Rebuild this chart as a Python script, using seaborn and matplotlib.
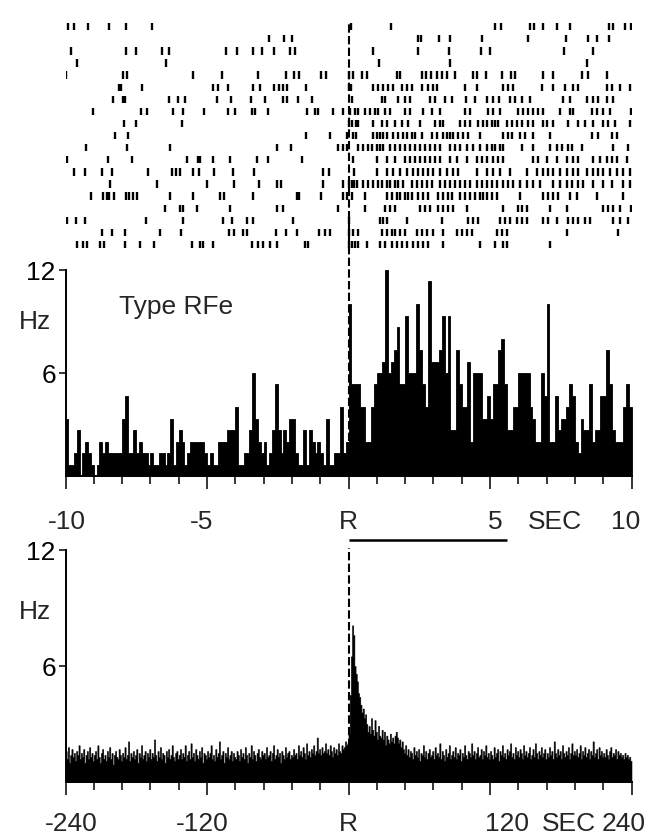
import numpy as np
import pandas as pd
import matplotlib
matplotlib.use("Agg")
import matplotlib.pyplot as plt
import seaborn as sns

# ---------------- data ----------------
raster_trials = [
    [-9.90, -9.70, -9.19, -8.45, -7.86, -6.93, 0.08, 1.49, 5.18, 5.39, 6.41, 6.57, 6.88, 7.36, 7.83, 9.22, 9.36, 9.77, 9.97],
    [-2.81, -2.27, -2.01, 2.47, 2.55, 3.20, 3.59, 4.71, 6.33, 7.69, 8.47, 8.77, 9.22],
    [-9.82, -7.86, -7.52, -6.58, -6.34, -4.34, -3.95, -3.36, -3.07, -2.63, -2.07, -1.89, 0.88, 2.44, 3.55, 4.67, 5.00, 7.62, 8.65],
    [-9.61, -6.46, 1.09, 3.59, 8.44],
    [-9.98, -7.98, -7.84, -5.48, -4.48, -3.19, -2.22, -1.91, -1.74, -0.98, -0.80, 0.02, 0.15, 0.47, 0.64, 1.70, 1.82, 2.59, 2.74, 2.90, 3.12, 3.29, 3.47, 3.76, 4.41, 4.53, 4.86, 5.41, 5.73, 5.88, 6.88, 7.24, 8.24, 8.47, 9.12],
    [-8.11, -8.03, -7.28, -4.78, -4.60, -4.25, -3.36, -3.13, -2.63, -2.45, -2.30, -2.16, -1.50, 0.02, 0.10, 0.88, 1.05, 1.23, 1.41, 1.58, 1.88, 2.06, 2.23, 2.59, 2.82, 3.00, 3.12, 4.12, 4.53, 5.47, 5.65, 5.83, 6.83, 7.24, 7.65, 7.95, 8.12, 9.12, 9.30, 9.60, 9.95],
    [-8.31, -7.98, -7.90, -6.34, -6.01, -5.78, -4.66, -4.15, -3.46, -2.95, -2.30, -2.16, -1.77, -1.30, 0.11, 1.17, 1.29, 1.76, 2.00, 2.17, 2.88, 3.06, 3.41, 3.65, 4.15, 4.47, 4.88, 5.12, 5.33, 5.71, 5.88, 6.12, 6.41, 7.59, 7.83, 8.42, 8.65, 8.83, 9.12, 9.36],
    [-9.04, -7.33, -7.13, -6.21, -5.84, -5.09, -4.25, -4.01, -3.42, -3.31, -2.83, -1.48, -1.19, -1.07, -0.54, -0.18, 0.05, 0.23, 0.35, 0.58, 0.76, 0.94, 1.05, 1.29, 1.47, 2.00, 2.17, 2.65, 2.94, 3.23, 4.12, 4.29, 4.94, 5.12, 5.35, 6.00, 6.18, 6.36, 6.53, 6.71, 6.89, 7.47, 7.83, 7.95, 8.59, 8.77, 9.01, 9.24, 9.97],
    [-7.93, -7.52, -5.87, 0.03, 0.12, 0.25, 0.35, 0.88, 1.17, 1.35, 1.64, 1.88, 2.11, 2.53, 3.06, 3.23, 3.35, 3.94, 4.12, 4.29, 4.59, 4.77, 4.88, 5.06, 5.18, 5.30, 5.59, 5.77, 5.94, 6.12, 6.36, 6.53, 6.89, 7.00, 7.24, 7.77, 8.12, 8.36, 8.65, 9.01, 9.18, 9.42, 9.95],
    [-8.25, -7.78, -1.50, -0.66, -0.04, 0.17, 0.27, 0.88, 1.00, 1.11, 1.23, 1.35, 1.58, 1.76, 1.94, 2.06, 2.23, 2.35, 2.59, 2.94, 3.12, 3.35, 3.47, 3.59, 3.71, 3.88, 4.06, 4.24, 4.65, 5.47, 5.65, 5.77, 6.06, 6.24, 6.53, 7.12, 8.59, 8.83, 9.30, 9.48],
    [-9.28, -7.84, -6.29, -2.51, -2.04, -0.36, -0.18, -0.04, 0.35, 0.52, 0.70, 0.82, 1.00, 1.11, 1.23, 1.47, 1.64, 1.82, 2.00, 2.17, 2.35, 2.53, 2.70, 2.88, 3.06, 3.23, 3.59, 3.76, 3.94, 4.18, 4.41, 4.65, 4.88, 5.06, 5.18, 5.35, 5.47, 6.12, 6.53, 7.12, 7.36, 7.53, 7.77, 7.89, 8.24, 9.36, 9.89],
    [-9.94, -8.49, -7.66, -5.70, -5.31, -5.25, -4.78, -4.19, -3.25, -2.83, -1.63, 0.17, 1.00, 1.35, 1.64, 2.00, 2.17, 2.35, 2.53, 2.70, 2.88, 3.06, 3.23, 3.59, 3.82, 4.18, 4.53, 4.71, 4.88, 5.12, 5.30, 5.47, 6.53, 6.71, 7.00, 7.36, 7.71, 7.95, 8.12, 8.65, 8.89, 9.12, 9.30, 9.48, 9.83],
    [-9.70, -9.31, -8.72, -8.37, -7.07, -6.25, -6.10, -5.96, -5.49, -5.27, -4.74, -4.07, -3.34, -0.89, -0.68, 0.20, 1.00, 1.35, 1.58, 1.82, 2.06, 2.29, 2.47, 2.65, 2.82, 3.00, 3.23, 3.47, 3.71, 3.88, 4.53, 4.88, 5.12, 5.35, 5.71, 6.30, 6.65, 6.89, 7.06, 7.24, 7.47, 7.71, 7.95, 8.12, 8.42, 8.65, 8.83, 9.01, 9.24, 9.48, 9.71, 9.95],
    [-8.43, -6.76, -4.99, -4.05, -3.15, -2.54, -2.40, -0.89, -0.18, 0.02, 0.11, 0.20, 0.29, 0.52, 0.70, 0.88, 1.05, 1.17, 1.35, 1.47, 1.64, 1.76, 1.94, 2.23, 2.41, 2.59, 2.76, 2.94, 3.23, 3.41, 3.59, 3.76, 3.94, 4.12, 4.29, 4.53, 4.71, 4.88, 5.06, 5.24, 5.47, 5.65, 5.83, 6.06, 6.30, 6.53, 6.77, 7.24, 7.47, 7.71, 7.89, 8.12, 8.30, 8.65, 9.01, 9.30, 9.71, 9.95],
    [-9.11, -8.66, -8.55, -8.45, -8.29, -7.86, -7.74, -7.63, -7.49, -6.31, -5.48, -4.54, -4.40, -3.36, -1.83, -1.74, -0.98, -0.18, -0.06, 0.11, 0.58, 1.35, 1.53, 1.70, 1.82, 2.00, 2.11, 2.23, 2.47, 2.65, 2.82, 3.18, 3.35, 3.53, 3.65, 3.94, 4.12, 4.29, 4.47, 4.65, 4.77, 4.88, 5.06, 5.24, 6.06, 6.89, 7.06, 7.24, 7.42, 7.83, 8.06, 8.77, 9.71],
    [-6.49, -5.96, -5.86, -5.37, -4.19, -2.54, -2.30, -0.36, 0.58, 1.29, 1.47, 1.64, 2.53, 2.70, 2.88, 3.18, 3.35, 3.53, 3.71, 4.18, 5.47, 6.00, 6.12, 6.30, 7.12, 7.71, 9.01, 9.18, 9.36, 9.60, 9.97],
    [-9.94, -9.63, -9.31, -7.17, -5.84, -4.42, -4.13, -3.57, -3.39, -1.97, 0.00, 1.11, 1.23, 1.35, 2.06, 3.29, 4.24, 4.41, 4.59, 5.35, 5.53, 5.71, 5.94, 6.12, 6.30, 6.89, 7.06, 7.36, 7.77, 7.95, 8.12, 8.36, 8.53, 9.36, 9.60, 9.89],
    [-8.72, -8.37, -7.90, -6.66, -5.93, -4.21, -4.05, -3.74, -3.57, -2.56, -2.21, -1.83, -1.03, -0.83, -0.66, 0.02, 0.17, 0.35, 1.17, 1.35, 1.53, 1.64, 1.82, 2.00, 2.41, 2.59, 2.76, 3.00, 3.35, 3.82, 4.00, 4.18, 4.35, 5.24, 5.41, 5.59, 7.71, 9.54],
    [-9.61, -9.37, -9.25, -8.78, -8.64, -7.90, -7.37, -6.87, -5.54, -5.25, -5.13, -4.78, -3.42, -3.19, -3.01, -2.77, -2.51, -1.54, -1.42, 0.02, 0.11, 0.23, 0.35, 0.64, 1.11, 1.29, 1.53, 1.70, 1.88, 2.06, 2.29, 2.47, 2.65, 2.82, 3.35, 4.65, 5.18, 5.47, 5.59, 7.12],
]

# spike counts per 0.1 s bin, -10 s .. +10 s (200 bins)
psth_counts = [
    5, 1, 1, 2, 4, 0, 2, 3, 2, 1,   0, 1, 3, 2, 3, 2, 2, 2, 2, 2,
    5, 7, 2, 2, 4, 2, 3, 2, 2, 1,   2, 1, 1, 2, 2, 1, 2, 5, 1, 3,
    4, 3, 1, 2, 3, 3, 3, 3, 3, 2,   1, 2, 1, 1, 3, 3, 3, 4, 4, 4,
    6, 1, 1, 2, 2, 4, 9, 5, 3, 2,   3, 1, 2, 4, 8, 4, 2, 4, 3, 5,
    5, 2, 1, 1, 4, 1, 4, 3, 2, 3,   2, 1, 5, 1, 1, 2, 2, 6, 2, 3,
    15, 8, 8, 8, 6, 6, 3, 3, 6, 8,  9, 9, 10, 18, 9, 10, 11, 13, 8, 8,
    14, 9, 9, 9, 15, 11, 8, 6, 17, 10,  10, 10, 11, 14, 9, 14, 4, 4, 11, 8,
    6, 6, 10, 3, 9, 9, 9, 5, 5, 7,  5, 8, 8, 11, 12, 8, 4, 4, 6, 6,
    9, 9, 9, 9, 6, 5, 3, 3, 9, 7,   15, 3, 3, 7, 4, 5, 5, 6, 8, 7,
    3, 2, 5, 4, 4, 8, 3, 4, 4, 7,   7, 11, 8, 4, 3, 3, 3, 6, 8, 6,
]
N_TRIALS = 15
BIN_S = 0.1

# firing rate (Hz) in 1 s bins, -240 s .. +240 s (480 bins)
long_rate_hz = [
    1.6, 1.2, 1.8, 1.0, 1.4, 1.7, 1.3, 1.5, 1.1, 1.6, 1.4, 1.9, 1.2, 1.5, 1.3, 1.7, 1.0, 1.4, 1.6, 1.2, 1.8, 1.3, 1.5, 1.1,
    1.4, 1.6, 1.2, 1.9, 1.3, 1.0, 1.5, 1.7, 1.2, 1.4, 1.1, 1.6, 1.3, 1.8, 1.2, 1.5, 0.9, 1.4, 1.6, 1.3, 1.2, 1.7, 1.4, 1.1,
    1.5, 1.3, 1.8, 1.2, 1.4, 2.1, 1.1, 1.5, 1.3, 1.6, 1.2, 1.4, 1.7, 1.0, 1.5, 1.3, 1.9, 1.2, 1.4, 1.6, 1.1, 1.5, 1.3, 1.7,
    1.2, 1.5, 1.3, 2.2, 1.4, 1.1, 1.6, 1.3, 1.8, 1.2, 1.5, 1.4, 1.0, 1.6, 1.3, 1.7, 1.2, 1.4, 1.9, 1.3, 1.1, 1.5, 1.6, 1.2,
    1.4, 1.7, 1.2, 1.5, 1.3, 1.9, 1.1, 1.4, 1.6, 1.2, 2.0, 1.3, 1.5, 1.1, 1.7, 1.4, 1.2, 1.6, 1.3, 1.8, 1.0, 1.5, 1.4, 1.2,
    1.6, 1.3, 1.5, 1.9, 1.2, 1.4, 1.1, 1.7, 1.3, 1.5, 2.1, 1.2, 1.4, 1.6, 1.0, 1.5, 1.3, 1.8, 1.2, 1.4, 1.6, 1.1, 1.5, 1.3,
    1.2, 1.6, 1.4, 1.1, 1.7, 1.3, 1.5, 1.2, 1.8, 1.4, 1.0, 1.5, 1.3, 1.9, 1.2, 1.6, 1.4, 1.1, 1.5, 1.7, 1.3, 1.2, 1.6, 1.4,
    1.5, 1.2, 1.8, 1.3, 1.4, 1.6, 1.1, 1.5, 1.9, 1.2, 1.4, 1.7, 1.3, 1.5, 1.0, 1.6, 1.4, 1.2, 1.8, 1.3, 1.5, 1.6, 1.2, 1.4,
    1.3, 1.7, 1.4, 1.5, 1.2, 1.9, 1.4, 1.6, 1.3, 1.8, 1.5, 1.2, 2.0, 1.4, 1.6, 1.3, 1.7, 1.5, 1.9, 1.4, 1.6, 2.3, 1.5, 1.7,
    1.4, 1.8, 1.5, 1.6, 2.0, 1.5, 1.7, 1.4, 1.9, 1.6, 1.3, 1.8, 1.5, 1.7, 1.4, 2.0, 1.6, 1.5, 1.9, 1.7, 1.8, 2.1, 1.9, 2.0,
    2.5, 4.5, 6.5, 8.1, 7.6, 6.0, 5.6, 5.2, 4.6, 4.4, 4.0, 3.6, 3.8, 3.3, 3.5, 3.0, 2.6, 2.9, 2.5, 3.3, 2.7, 2.4, 3.2, 2.6,
    2.2, 2.9, 2.4, 2.3, 2.7, 2.2, 2.6, 1.9, 2.4, 2.2, 2.0, 2.5, 2.1, 2.3, 2.0, 2.4, 2.6, 2.3, 2.0, 2.2, 1.8, 2.1, 1.7, 1.5,
    1.9, 1.4, 1.7, 1.3, 1.6, 1.5, 1.2, 1.8, 1.4, 1.6, 1.3, 1.7, 1.1, 1.5, 1.4, 1.9, 1.3, 1.6, 1.2, 1.5, 1.7, 1.3, 1.4, 1.6,
    1.2, 1.8, 1.4, 1.5, 1.3, 2.0, 1.2, 1.6, 1.4, 1.1, 1.7, 1.3, 1.5, 1.9, 1.2, 1.4, 1.6, 1.3, 1.8, 1.2, 1.5, 1.4, 1.7, 1.1,
    1.5, 1.3, 1.9, 1.4, 1.2, 1.6, 1.5, 1.3, 2.0, 1.4, 1.6, 1.2, 1.5, 1.8, 1.3, 1.4, 1.7, 1.2, 1.6, 1.4, 1.9, 1.3, 1.5, 1.2,
    1.6, 1.4, 1.2, 1.8, 1.3, 1.5, 1.7, 1.1, 1.6, 1.4, 1.9, 1.3, 1.5, 1.2, 1.7, 1.4, 1.6, 2.0, 1.3, 1.5, 1.2, 1.8, 1.4, 1.6,
    1.3, 1.7, 1.5, 1.2, 1.9, 1.4, 1.6, 1.3, 1.5, 1.8, 1.2, 1.4, 1.7, 1.3, 2.0, 1.5, 1.2, 1.6, 1.4, 1.8, 1.3, 1.5, 1.7, 1.2,
    1.5, 1.3, 1.8, 1.4, 1.6, 1.2, 2.1, 1.5, 1.3, 1.7, 1.4, 1.6, 1.2, 1.9, 1.5, 1.3, 1.6, 1.4, 1.8, 1.2, 1.5, 2.0, 1.4, 1.6,
    1.4, 1.7, 1.3, 1.5, 1.9, 1.2, 1.6, 1.4, 1.8, 1.3, 1.5, 1.7, 1.2, 1.6, 1.4, 2.1, 1.3, 1.5, 1.7, 1.2, 1.8, 1.4, 1.6, 1.3,
    1.5, 1.3, 1.7, 1.4, 1.2, 1.6, 1.8, 1.3, 1.5, 1.4, 1.7, 1.2, 1.6, 1.4, 1.5, 1.3, 1.4, 1.2, 1.5, 1.3, 1.4, 1.2, 1.3, 1.1,
]
LONG_BIN_S = 1.0

stim_end_s = 5.6
short_ticks = [-10, -5, 0, 5, 10]
short_label_text = ["-10", "-5", "R", "5", "SEC", "10"]
short_label_pos = [-9.95, -5.2, 0, 5.2, 7.3, 9.8]
long_ticks = [-240, -120, 0, 120, 240]
long_label_text = ["-240", "-120", "R", "120", "SEC", "240"]
long_label_pos = [-235, -124, 0, 134, 187, 233]
y_ticks = [6, 12]
y_labels = ["6", "12"]
panel_label = "Type RFe"

# ---------------- style ----------------
sns.set_style("ticks")
plt.rcParams["font.family"] = ["Liberation Sans", "DejaVu Sans"]
FS = 19

W, H = 658, 838
fig = plt.figure(figsize=(W / 100, H / 100), dpi=100)

def fx(px):
    return px / W

def fy(px):
    return 1 - px / H

X0, X1 = 65.5, 631.5

# raster axes
ax_r = fig.add_axes([fx(X0), fy(255), fx(X1 - X0), (255 - 15) / H])
ax_r.eventplot(raster_trials, lineoffsets=np.arange(len(raster_trials)),
               linelengths=0.6, linewidths=1.7, colors="black")
ax_r.set_xlim(-10, 10)
ax_r.set_ylim(18.87, -0.967)
ax_r.axis("off")

def style_hist_axes(ax, ticks, minor_step, xlim, lab_text, lab_pos, baseline_pt):
    ax.set_xlim(*xlim)
    ax.set_ylim(0, 12)
    sns.despine(ax=ax, top=True, right=True)
    for s in ["left", "bottom"]:
        ax.spines[s].set_linewidth(1.4)
        ax.spines[s].set_color("black")
    ax.set_yticks(y_ticks)
    ax.set_yticklabels(y_labels, fontsize=FS)
    ax.set_xticks(ticks)
    ax.set_xticklabels([])
    ax.set_xticks(np.arange(xlim[0], xlim[1] + minor_step / 2, minor_step), minor=True)
    ax.tick_params(axis="x", which="major", length=9.5, width=1.1, colors="black")
    ax.tick_params(axis="x", which="minor", length=5.5, width=1.1, colors="black")
    ax.tick_params(axis="y", which="major", length=5, width=1.1, pad=2, colors="black")
    ax.set_xlabel("")
    ax.set_ylabel("")
    for txt, pos in zip(lab_text, lab_pos):
        ax.annotate(txt, xy=(pos, 0), xycoords=("data", "axes fraction"),
                    xytext=(0, -baseline_pt), textcoords="offset points",
                    ha="center", va="baseline", fontsize=FS, annotation_clip=False)
    ax.set_facecolor("none")

# middle PSTH
ax_m = fig.add_axes([fx(X0), fy(476), fx(X1 - X0), (476 - 270) / H])
edges_s = [round(-10 + BIN_S * i, 3) for i in range(len(psth_counts) + 1)]
centers_s = [(a + b) / 2 for a, b in zip(edges_s[:-1], edges_s[1:])]
rate_s = np.array(psth_counts) / (N_TRIALS * BIN_S)
df_s = pd.DataFrame({"t": centers_s, "rate": rate_s})
sns.histplot(data=df_s, x="t", weights="rate", bins=edges_s, element="step",
             fill=True, color="black", alpha=1, linewidth=0.6, ax=ax_m)
style_hist_axes(ax_m, short_ticks, 1, (-10, 10), short_label_text, short_label_pos, 38.5)
ax_m.plot([0, 0], [0, 26.5], color="black", lw=1.5, dashes=(4, 1.6), clip_on=False, zorder=5)
ax_m.plot([0, stim_end_s], [-0.311, -0.311], transform=ax_m.get_xaxis_transform(),
          color="black", lw=1.8, clip_on=False, solid_capstyle="butt")
ax_m.text(-0.054, 9.0, "Hz", transform=ax_m.get_yaxis_transform(), ha="center", va="center", fontsize=FS)
ax_m.text(-6.1, 9.85, panel_label, ha="center", va="center", fontsize=FS)

# bottom long-range PSTH
ax_b = fig.add_axes([fx(X0), fy(782), fx(X1 - X0), (782 - 550) / H])
edges_l = [-240 + LONG_BIN_S * i for i in range(len(long_rate_hz) + 1)]
centers_l = [(a + b) / 2 for a, b in zip(edges_l[:-1], edges_l[1:])]
df_l = pd.DataFrame({"t": centers_l, "rate": long_rate_hz})
sns.histplot(data=df_l, x="t", weights="rate", bins=edges_l, element="step",
             fill=True, color="black", alpha=1, linewidth=0.4, ax=ax_b)
style_hist_axes(ax_b, long_ticks, 24, (-240, 240), long_label_text, long_label_pos, 35.6)
ax_b.plot([0, 0], [0, 12.1], color="black", lw=1.5, dashes=(4, 1.6), clip_on=False, zorder=5)
ax_b.text(-0.054, 8.8, "Hz", transform=ax_b.get_yaxis_transform(), ha="center", va="center", fontsize=FS)

fig.savefig("out.png", dpi=100, facecolor="white")
